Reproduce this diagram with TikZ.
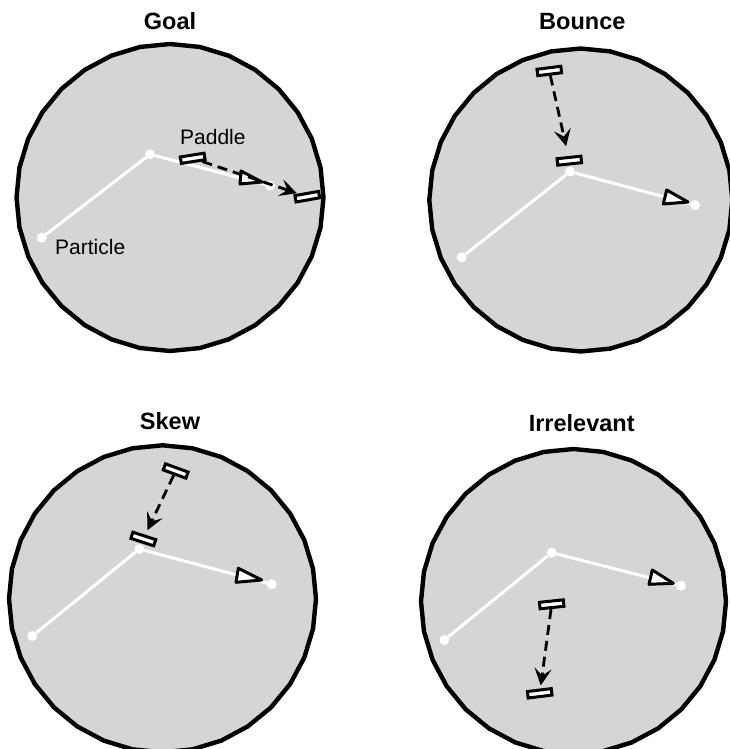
\documentclass[tikz,border=0pt]{standalone}
\usepackage{fontspec}
\setmainfont{Liberation Sans}
\usetikzlibrary{shapes.geometric,arrows.meta}
\definecolor{diskc}{RGB}{212,213,215}
\begin{document}
\begin{tikzpicture}[x=1pt,y=-1pt,
  disk/.style={regular polygon, regular polygon sides=32, shape border rotate=5.625, inner sep=0pt, draw=black, fill=diskc, line width=4.4pt},
  title/.style={font=\fontsize{23.5}{28}\selectfont\bfseries, anchor=base, inner sep=0pt},
  lbl/.style={font=\fontsize{21}{25}\selectfont, anchor=base west, inner sep=0pt},
  dot/.style={circle, fill=white, minimum size=10pt, inner sep=0pt},
  wline/.style={white, line width=3pt},
  paddle/.style={rectangle, draw=black, fill=white, line width=3pt, minimum width=24pt, minimum height=6.5pt, inner sep=0pt},
  dasharrow/.style={black, line width=2.8pt, dash pattern=on 10pt off 6pt, -{Stealth[length=17pt,width=17pt,inset=7pt]}},
  tri/.style={draw=black, fill=white, line width=3pt, line join=round}]
\useasboundingbox (0,0) rectangle (730,749);

% ---------------- Goal ----------------
\node[title] (g-t) at (170,29.3) {Goal};
\node[disk, minimum size=307pt] (g-c) at (170,197.5) {};
\node[dot] (g-P) at (41.7,237.7) {};
\node[dot] (g-J) at (150,154.3) {};
\node[dot] (g-E) at (270,185.7) {};
\draw[wline] (g-P) -- (g-J) -- (g-E);
\draw[tri] (241,171) -- (240,184) -- (262,182) -- cycle;
\node[paddle, rotate=9] (g-p1) at (192.7,158.3) {};
\node[paddle, rotate=10] (g-p2) at (307.3,196.7) {};
\draw[dasharrow, shorten >=1pt] (g-p1) -- (g-p2);
\node[lbl] (g-l1) at (180,144) {Paddle};
\node[lbl] (g-l2) at (55,254) {Particle};

% ---------------- Bounce ----------------
\node[title] (b-t) at (582.3,29.3) {Bounce};
\node[disk, minimum size=303pt] (b-c) at (580.8,200) {};
\node[dot] (b-P) at (461.7,257.3) {};
\node[dot] (b-J) at (570,171.7) {};
\node[dot] (b-E) at (695,205) {};
\draw[wline] (b-P) -- (b-J) -- (b-E);
\draw[tri] (666.7,190) -- (663.3,204) -- (688,202) -- cycle;
\node[paddle, rotate=7] (b-p1) at (549.3,71) {};
\node[paddle, rotate=6] (b-p2) at (569.3,160.7) {};
\draw[dasharrow, shorten >=10pt] (b-p1) -- (b-p2);

% ---------------- Skew ----------------
\node[title] (s-t) at (170,429) {Skew};
\node[disk, minimum size=307pt] (s-c) at (162.5,598.8) {};
\node[dot] (s-P) at (32.3,636) {};
\node[dot] (s-J) at (139.3,549) {};
\node[dot] (s-E) at (271.7,584.3) {};
\draw[wline] (s-P) -- (s-J) -- (s-E);
\draw[tri] (238.3,568.3) -- (236,582.3) -- (261.7,580) -- cycle;
\node[paddle, rotate=-20] (s-p1) at (175.7,471) {};
\node[paddle, rotate=-18] (s-p2) at (143.3,539) {};
\draw[dasharrow, shorten >=5pt] (s-p1) -- (s-p2);

% ---------------- Irrelevant ----------------
\node[title] (i-t) at (581.7,431) {Irrelevant};
\node[disk, minimum size=305pt] (i-c) at (573.5,601.5) {};
\node[dot] (i-P) at (444.3,640) {};
\node[dot] (i-J) at (551.7,552.7) {};
\node[dot] (i-E) at (681,585.7) {};
\draw[wline] (i-P) -- (i-J) -- (i-E);
\draw[tri] (652.3,570) -- (649,584.3) -- (673.3,583.3) -- cycle;
\node[paddle, rotate=6] (i-p1) at (551.7,604.3) {};
\node[paddle, rotate=7] (i-p2) at (539.7,693.3) {};
\draw[dasharrow, shorten >=3pt] (i-p1) -- (i-p2);
\end{tikzpicture}
\end{document}
